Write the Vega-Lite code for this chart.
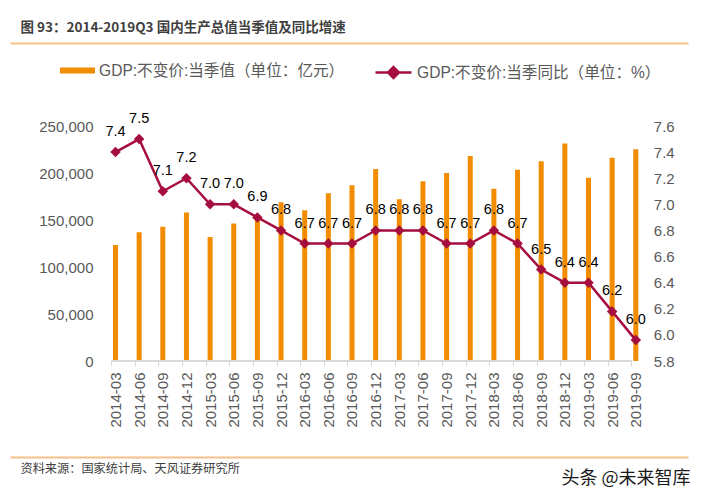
{
  "$schema": "https://vega.github.io/schema/vega-lite/v6.json",
  "background": "white",
  "autosize": {"type": "none"},
  "padding": {"left": 10, "top": 126, "right": 15, "bottom": 139},
  "width": 678,
  "height": 235,
  "config": {
    "view": {"stroke": null},
    "font": "Liberation Sans, Noto Sans CJK SC"
  },
  "data": {
    "values": [
      {"q": "2014-03", "gdp": 123400, "yoy": 7.4},
      {"q": "2014-06", "gdp": 136900, "yoy": 7.5},
      {"q": "2014-09", "gdp": 142900, "yoy": 7.1},
      {"q": "2014-12", "gdp": 158100, "yoy": 7.2},
      {"q": "2015-03", "gdp": 131900, "yoy": 7.0},
      {"q": "2015-06", "gdp": 146400, "yoy": 7.0},
      {"q": "2015-09", "gdp": 155300, "yoy": 6.9},
      {"q": "2015-12", "gdp": 168800, "yoy": 6.8},
      {"q": "2016-03", "gdp": 160300, "yoy": 6.7},
      {"q": "2016-06", "gdp": 178400, "yoy": 6.7},
      {"q": "2016-09", "gdp": 186900, "yoy": 6.7},
      {"q": "2016-12", "gdp": 204300, "yoy": 6.8},
      {"q": "2017-03", "gdp": 172000, "yoy": 6.8},
      {"q": "2017-06", "gdp": 191100, "yoy": 6.8},
      {"q": "2017-09", "gdp": 200000, "yoy": 6.7},
      {"q": "2017-12", "gdp": 218100, "yoy": 6.7},
      {"q": "2018-03", "gdp": 183300, "yoy": 6.8},
      {"q": "2018-06", "gdp": 203500, "yoy": 6.7},
      {"q": "2018-09", "gdp": 212400, "yoy": 6.5},
      {"q": "2018-12", "gdp": 231500, "yoy": 6.4},
      {"q": "2019-03", "gdp": 195000, "yoy": 6.4},
      {"q": "2019-06", "gdp": 216300, "yoy": 6.18},
      {"q": "2019-09", "gdp": 225200, "yoy": 5.96}
    ]
  },
  "layer": [
    {
      "mark": {"type": "bar", "size": 5, "xOffset": 4.5},
      "encoding": {
        "x": {
          "field": "q",
          "type": "ordinal",
          "sort": null,
          "scale": {"type": "point", "padding": 0.334, "align": 0.405, "domain": ["p1", "p2", "p3", "p4", "2014-03", "2014-06", "2014-09", "2014-12", "2015-03", "2015-06", "2015-09", "2015-12", "2016-03", "2016-06", "2016-09", "2016-12", "2017-03", "2017-06", "2017-09", "2017-12", "2018-03", "2018-06", "2018-09", "2018-12", "2019-03", "2019-06", "2019-09", "p5", "p6"]},
          "axis": {
            "title": null,
            "values": ["2014-03", "2014-06", "2014-09", "2014-12", "2015-03", "2015-06", "2015-09", "2015-12", "2016-03", "2016-06", "2016-09", "2016-12", "2017-03", "2017-06", "2017-09", "2017-12", "2018-03", "2018-06", "2018-09", "2018-12", "2019-03", "2019-06", "2019-09"],
            "domain": false,
            "labelAngle": -90,
            "labelOffset": 4.5,
            "labelPadding": 6,
            "tickSize": 5,
            "tickColor": "#D9D9D9",
            "labelFontSize": 15,
            "labelColor": "#595959",
            "labelOverlap": false
          }
        },
        "y": {
          "field": "gdp",
          "type": "quantitative",
          "scale": {"domain": [0, 250000], "nice": false},
          "axis": {
            "orient": "left",
            "offset": -101,
            "values": [0, 50000, 100000, 150000, 200000, 250000],
            "format": ",.0f",
            "grid": false,
            "domain": false,
            "ticks": false,
            "labelPadding": 18,
            "labelOverlap": false,
            "labelFontSize": 15,
            "labelColor": "#595959",
            "title": null
          }
        },
        "fill": {
          "datum": "GDP:不变价:当季值（单位：亿元）",
          "scale": {"range": ["#F28C00"]},
          "legend": {
            "orient": "none",
            "legendX": 50,
            "legendY": -73,
            "title": null,
            "padding": 0,
            "symbolType": "M-1,-0.17L1,-0.17L1,0.17L-1,0.17Z",
            "symbolSize": 1225,
            "symbolStrokeWidth": 0,
            "labelFontSize": 15.6,
            "labelColor": "#595959",
            "labelOffset": 4,
            "labelLimit": 0
          }
        }
      }
    },
    {
      "encoding": {
        "x": {
          "field": "q",
          "type": "ordinal",
          "sort": null,
          "axis": {
            "orient": "top",
            "offset": 83,
            "domainColor": "#F8BF8A",
            "domainWidth": 2,
            "labels": false,
            "ticks": false,
            "minExtent": 0,
            "title": "图 93：2014-2019Q3 国内生产总值当季值及同比增速",
            "titleAnchor": "start",
            "titleX": 10,
            "titlePadding": 9,
            "titleFont": "Noto Sans CJK SC",
            "titleFontSize": 13.5,
            "titleFontWeight": "bold",
            "titleColor": "#3F3F3F"
          }
        },
        "y": {
          "field": "yoy",
          "type": "quantitative",
          "scale": {"domain": [5.8, 7.6], "zero": false, "nice": false},
          "axis": {
            "orient": "right",
            "offset": -56.7,
            "values": [5.8, 6.0, 6.2, 6.4, 6.6, 6.8, 7.0, 7.2, 7.4, 7.6],
            "format": ".1f",
            "grid": false,
            "domain": false,
            "ticks": false,
            "labelPadding": 22,
            "labelOverlap": false,
            "labelFontSize": 15,
            "labelColor": "#595959",
            "title": null
          }
        }
      },
      "layer": [
        {
          "mark": {"type": "line", "strokeWidth": 2.5, "xOffset": 4.5},
          "encoding": {
            "stroke": {
              "datum": "GDP:不变价:当季同比（单位：%）",
              "scale": {"range": ["#A50E3E"]},
              "legend": {
                "orient": "none",
                "legendX": 364,
                "legendY": -73,
                "title": null,
                "padding": 0,
                "symbolType": "M-1,0L1,0M0,-0.3L0.3,0L0,0.3L-0.3,0Z",
                "symbolSize": 1296,
                "symbolStrokeWidth": 2.5,
                "symbolFillColor": "#A50E3E",
                "labelFontSize": 15.6,
                "labelColor": "#595959",
                "labelOffset": 4,
                "labelLimit": 0,
                "encode": {"symbols": {"update": {"fill": {"value": "#A50E3E"}}}}
              }
            }
          }
        },
        {
          "mark": {"type": "point", "shape": "diamond", "filled": true, "size": 110, "color": "#A50E3E", "opacity": 1, "xOffset": 4.5}
        }
      ]
    },
    {
      "mark": {"type": "text", "dy": -20, "xOffset": 4.5, "fontSize": 14.5, "color": "#000000"},
      "encoding": {
        "x": {
          "field": "q",
          "type": "ordinal",
          "sort": null,
          "axis": {
            "orient": "bottom",
            "offset": 96,
            "domainColor": "#F8BF8A",
            "domainWidth": 2,
            "labels": false,
            "ticks": false,
            "minExtent": 0,
            "title": "资料来源：国家统计局、天风证券研究所",
            "titleAnchor": "start",
            "titleX": 10,
            "titlePadding": 5,
            "titleFont": "Noto Sans CJK SC",
            "titleFontSize": 12.2,
            "titleFontWeight": "normal",
            "titleColor": "#404040"
          }
        },
        "y": {
          "field": "yoy",
          "type": "quantitative",
          "scale": {"domain": [5.8, 7.6], "zero": false, "nice": false},
          "axis": null
        },
        "text": {"field": "yoy", "type": "quantitative", "format": ".1f"}
      }
    },
    {
      "mark": {"type": "rule", "color": "#D9D9D9", "strokeWidth": 1},
      "encoding": {
        "x": {
          "datum": "2014-03",
          "type": "ordinal",
          "axis": {
            "orient": "bottom",
            "offset": 96,
            "domain": false,
            "labels": false,
            "ticks": false,
            "minExtent": 0,
            "title": "头条 @未来智库",
            "titleAnchor": "end",
            "titleX": 680,
            "titlePadding": 12,
            "titleFont": "Noto Sans CJK SC",
            "titleFontSize": 18,
            "titleFontWeight": "normal",
            "titleColor": "#1A1A1A"
          }
        },
        "x2": {"datum": "2019-09"},
        "y": {"datum": 0, "type": "quantitative", "scale": {"domain": [0, 1]}, "axis": null}
      }
    }
  ],
  "resolve": {"scale": {"y": "independent"}, "axis": {"x": "independent"}}
}
